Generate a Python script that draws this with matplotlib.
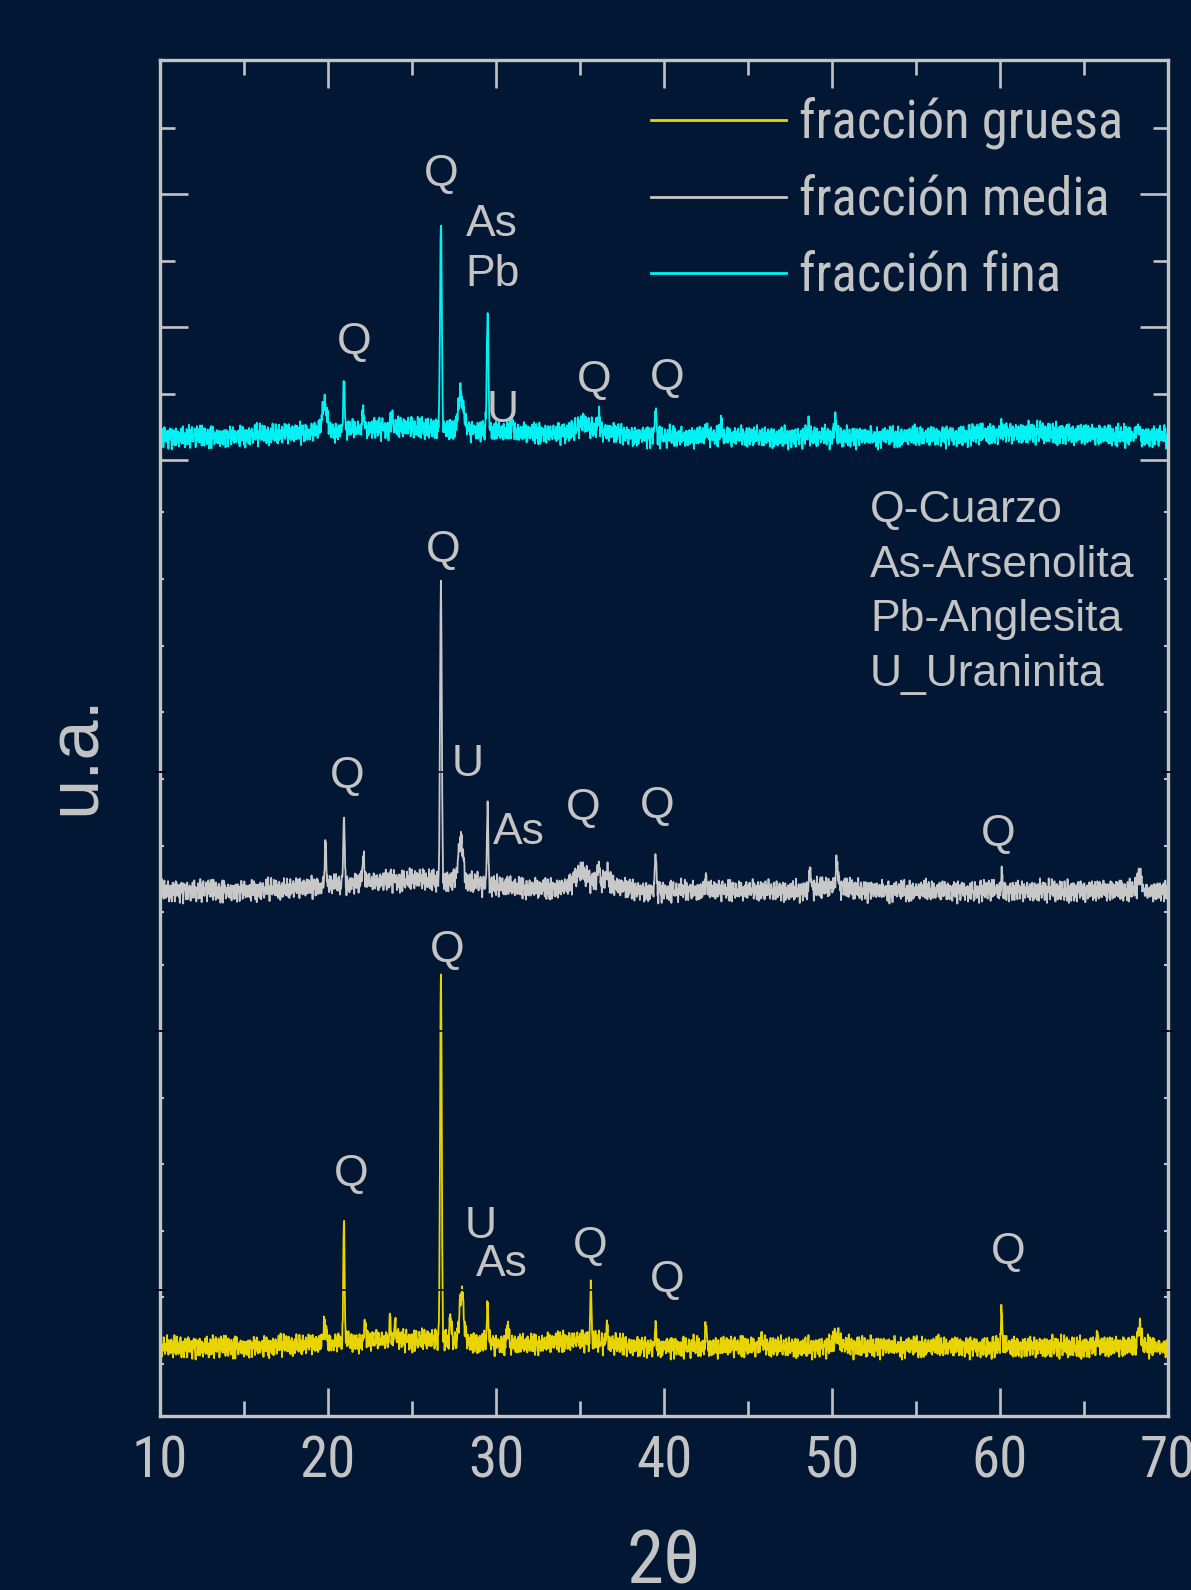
import numpy as np
import matplotlib
matplotlib.use("Agg")
import matplotlib.pyplot as plt
from matplotlib import font_manager as fm

# ---------------- data ----------------
two_theta_start, two_theta_end, two_theta_step = 10.0, 70.0, 0.02

# fracción fina (cyan)
fina_pos = [19.8, 20.95, 22.1, 23.8, 26.72, 27.9, 29.5, 31.0, 35.2, 36.1, 39.5, 42.5, 43.4, 48.6, 50.2, 60.1, 68.2]
fina_height = [26, 47, 18, 10, 210, 34, 120, 10, 9, 16, 26, 8, 13, 13, 15, 7, 9]
fina_width = [0.15, 0.05, 0.06, 0.08, 0.05, 0.15, 0.05, 0.08, 0.3, 0.06, 0.05, 0.06, 0.06, 0.05, 0.06, 0.06, 0.1]
fina_hump_pos = [25.0, 36.0, 62.0]
fina_hump_height = [9, 5, 4]
fina_hump_width = [5.0, 1.5, 3.0]

# fracción media (gray)
media_pos = [19.85, 20.95, 22.1, 26.72, 27.9, 29.5, 35.0, 36.1, 36.6, 39.5, 42.5, 48.7, 50.3, 60.1, 68.3]
media_height = [40, 61, 25, 301, 42, 81, 12, 17, 11, 40, 11, 21, 24, 14, 16]
media_width = [0.05, 0.05, 0.06, 0.05, 0.15, 0.04, 0.3, 0.06, 0.06, 0.04, 0.06, 0.05, 0.06, 0.05, 0.1]
media_hump_pos = [25.0, 36.0, 50.0]
media_hump_height = [11, 9, 4]
media_hump_width = [4.0, 1.2, 1.0]

# fracción gruesa (yellow)
gruesa_pos = [19.8, 20.95, 22.2, 23.7, 24.0, 26.72, 27.3, 27.95, 29.5, 30.7, 35.65, 36.6, 39.5, 42.5, 45.8, 50.3, 60.1, 65.8, 68.3]
gruesa_height = [17, 120, 18, 24, 16, 364, 24, 50, 35, 21, 55, 14, 19, 24, 8, 10, 36, 14, 21]
gruesa_width = [0.1, 0.04, 0.06, 0.04, 0.05, 0.05, 0.06, 0.12, 0.05, 0.05, 0.04, 0.06, 0.05, 0.04, 0.06, 0.2, 0.04, 0.04, 0.1]
gruesa_hump_pos = [25.0, 35.0]
gruesa_hump_height = [7, 6]
gruesa_hump_width = [4.0, 1.5]

# counting-noise texture (hand-typed jitter, values in -1..1)
jitter_a = [0.3,-0.5,0.8,-0.2,0.1,-0.9,0.4,0.6,-0.3,-0.7,0.2,0.9,-0.1,-0.4,0.5,-0.8,0.0,0.7,-0.6,0.3,
            -0.2,0.8,-0.9,0.1,0.4,-0.3,0.6,-0.5,0.2,-0.1,0.9,-0.7,-0.2,0.5,0.3,-0.8,0.1,-0.4,0.7,-0.6,
            0.0,0.4,-0.3,0.8,-0.9,0.2,0.6,-0.1,-0.5,0.3,0.7,-0.8,0.1,-0.2,0.5,-0.6,0.9,-0.4,0.0,0.3,
            -0.7,0.6,-0.1,0.2,-0.9,0.8,-0.3,0.4,-0.5,0.1,0.7,-0.2,-0.6,0.9,-0.4,0.3,-0.8,0.5,0.0,-0.1,
            0.6,-0.7,0.2,-0.3,0.8,-0.5,0.4,-0.9,0.1,0.7,-0.2,0.3,-0.6,0.5,-0.4,0.9,-0.8,0.0,0.2,-0.3,0.6]
jitter_b = [-0.4,0.7,0.1,-0.8,0.5,-0.2,0.9,-0.6,0.3,0.0,-0.5,0.8,-0.1,0.4,-0.9,0.6,-0.3,0.2,0.7,-0.7,
            0.1,-0.4,0.5,-0.6,0.9,-0.1,0.3,-0.8,0.0,0.6,-0.2,0.4,-0.5,0.8,-0.9,0.2,0.7,-0.3,0.1,-0.6,
            0.5,-0.1,0.9,-0.7,0.3,-0.4,0.0,0.8,-0.2,0.6,-0.8,0.1,0.4,-0.5,0.7,-0.9,0.2,-0.3,0.5,0.0,
            -0.6,0.9,-0.1,0.3,-0.7,0.6,-0.4,0.2,0.8,-0.5,0.1,-0.2,0.4,-0.8,0.7,-0.3,0.0,0.5,-0.9,0.6,
            -0.1,0.3,-0.6,0.8,-0.4,0.2,0.9,-0.7,0.1]

series_names = ["fracción gruesa", "fracción media", "fracción fina"]
phase_labels = ["Q-Cuarzo", "As-Arsenolita", "Pb-Anglesita", "U_Uraninita"]
x_ticks = [10, 20, 30, 40, 50, 60, 70]

# ---------------- layout / style ----------------
BG = "#011733"
FG = "#C4C4C4"
COL = {"gruesa": "#E8D400", "media": "#C8C8C8", "fina": "#00F2F2"}
offsets = {"gruesa": 69, "media": 525, "fina": 979}
noise_amp = 7.0

avail = {f.name for f in fm.fontManager.ttflist}
NARROW_NAME = next((n for n in ["Liberation Sans Narrow", "Arial Narrow", "Roboto Condensed",
                                "Open Sans Condensed"] if n in avail), None)
if NARROW_NAME:
    NARROW = [NARROW_NAME, "Liberation Sans", "DejaVu Sans"]
    leg_size, tick_size = 38, 41
else:
    NARROW = ["Liberation Sans", "DejaVu Sans"]
    leg_size, tick_size = 35, 36
REG = ["Liberation Sans", "DejaVu Sans"]

x = np.arange(two_theta_start, two_theta_end + two_theta_step / 2, two_theta_step)
ja = np.array(jitter_a)
jb = np.array(jitter_b)


def pattern(pos, hei, wid, hpos, hhei, hwid, shift):
    y = np.zeros_like(x)
    for p, h, w in zip(pos + hpos, hei + hhei, wid + hwid):
        y += h * np.exp(-0.5 * ((x - p) / w) ** 2)
    idx = np.arange(len(x)) + shift
    y += noise_amp * (ja[idx % len(ja)] + jb[(idx * 2) % len(jb)])
    return y


y_g = pattern(gruesa_pos, gruesa_height, gruesa_width, gruesa_hump_pos, gruesa_hump_height, gruesa_hump_width, 0)
y_m = pattern(media_pos, media_height, media_width, media_hump_pos, media_hump_height, media_hump_width, 37)
y_f = pattern(fina_pos, fina_height, fina_width, fina_hump_pos, fina_hump_height, fina_hump_width, 71)

W, H = 1191, 1590
fig = plt.figure(figsize=(W / 100, H / 100), dpi=100, facecolor=BG)
L, R, T, B = 160, 1168, 60, 1416
ax = fig.add_axes([L / W, 1 - B / H, (R - L) / W, (B - T) / H], facecolor=BG)

ax.plot(x, y_g + offsets["gruesa"], color=COL["gruesa"], lw=1.3, label=series_names[0])
ax.plot(x, y_m + offsets["media"], color=COL["media"], lw=1.3, label=series_names[1])
ax.plot(x, y_f + offsets["fina"], color=COL["fina"], lw=1.3, label=series_names[2])

ax.set_xlim(10, 70)
ax.set_ylim(0, B - T)


def ypix(py):
    return B - py


def xpix(px):
    return 10 + (px - L) / 16.8


# layer boundaries: background-coloured lines with small black ticks at both spines
for py in [772, 1031, 1290]:
    ax.axhline(ypix(py), color=BG, lw=1.2, zorder=5)
    for xa in [(-0.004, 0.006), (0.994, 1.004)]:
        ax.plot(xa, [ypix(py)] * 2, color="#000000", lw=1.2, transform=ax.get_yaxis_transform(),
                clip_on=False, zorder=6)

# ticks
for sp in ax.spines.values():
    sp.set_color(FG)
    sp.set_linewidth(2.4)
ax.set_xticks(x_ticks)
ax.set_xticks([15, 25, 35, 45, 55, 65], minor=True)
ax.set_yticks([ypix(p) for p in [193.6, 326.6, 459.6]])
ax.set_yticks([ypix(p) for p in [127.5, 260.5, 393.6]], minor=True)
ax.set_yticklabels([])
ax.tick_params(axis="both", which="major", direction="in", length=20, width=1.9, color=FG,
               top=True, right=True)
ax.tick_params(axis="both", which="minor", direction="in", length=11, width=1.9, color=FG,
               top=True, right=True)
ax.tick_params(axis="x", which="major", labelsize=tick_size, labelcolor=FG, pad=13)
for lab in ax.get_xticklabels():
    lab.set_family(NARROW)

tiny = [ypix(p) for p in [512, 579, 646, 712, 779, 846, 912, 965, 1098, 1164, 1231, 1297, 1364]]
for loc in ["left", "right"]:
    sec = ax.secondary_yaxis(loc)
    sec.set_yticks(tiny)
    sec.set_yticklabels([])
    sec.spines[loc].set_visible(False)
    sec.tick_params(direction="in", length=3, width=1.5, color=FG)

ax.set_xlabel("2θ", fontsize=54, color=FG, family=NARROW, labelpad=28)
fig.text(76 / W, 1 - 755 / H, "u.a.", rotation=90, fontsize=52, color=FG, family=REG,
         ha="center", va="center")

# peak labels: (text, x pixel, y pixel)
peak_labels = [
    ("Q", 441, 175), ("As", 492, 225), ("Pb", 493, 275), ("Q", 354, 343), ("U", 503, 410),
    ("Q", 594, 380), ("Q", 667, 378),
    ("Q", 443, 550), ("Q", 347, 777), ("U", 468, 764), ("As", 519, 832), ("Q", 583, 809),
    ("Q", 657, 807), ("Q", 998, 834),
    ("Q", 447, 950), ("Q", 351, 1175), ("U", 481, 1227), ("As", 502, 1264), ("Q", 590, 1247),
    ("Q", 667, 1281), ("Q", 1008, 1253),
]
for t, px, py in peak_labels:
    ax.text(xpix(px), ypix(py), t, fontsize=32, color=FG, family=REG, ha="center", va="center",
            zorder=6)

for i, t in enumerate(phase_labels):
    ax.text(xpix(870), ypix(511 + 54.5 * i), t, fontsize=32, color=FG, family=REG,
            ha="left", va="center", zorder=6)

leg = ax.legend(loc="upper left", bbox_to_anchor=(651 / W, 1 - 98 / H), bbox_transform=fig.transFigure,
                frameon=False, prop=fm.FontProperties(family=NARROW, size=leg_size),
                handlelength=135 / (leg_size / 0.72), handletextpad=0.24, labelspacing=0.47,
                borderpad=0, borderaxespad=0)
for txt in leg.get_texts():
    txt.set_color(FG)
for ln in leg.get_lines():
    ln.set_linewidth(2.0)

fig.savefig("out.png", dpi=100, facecolor=BG)
